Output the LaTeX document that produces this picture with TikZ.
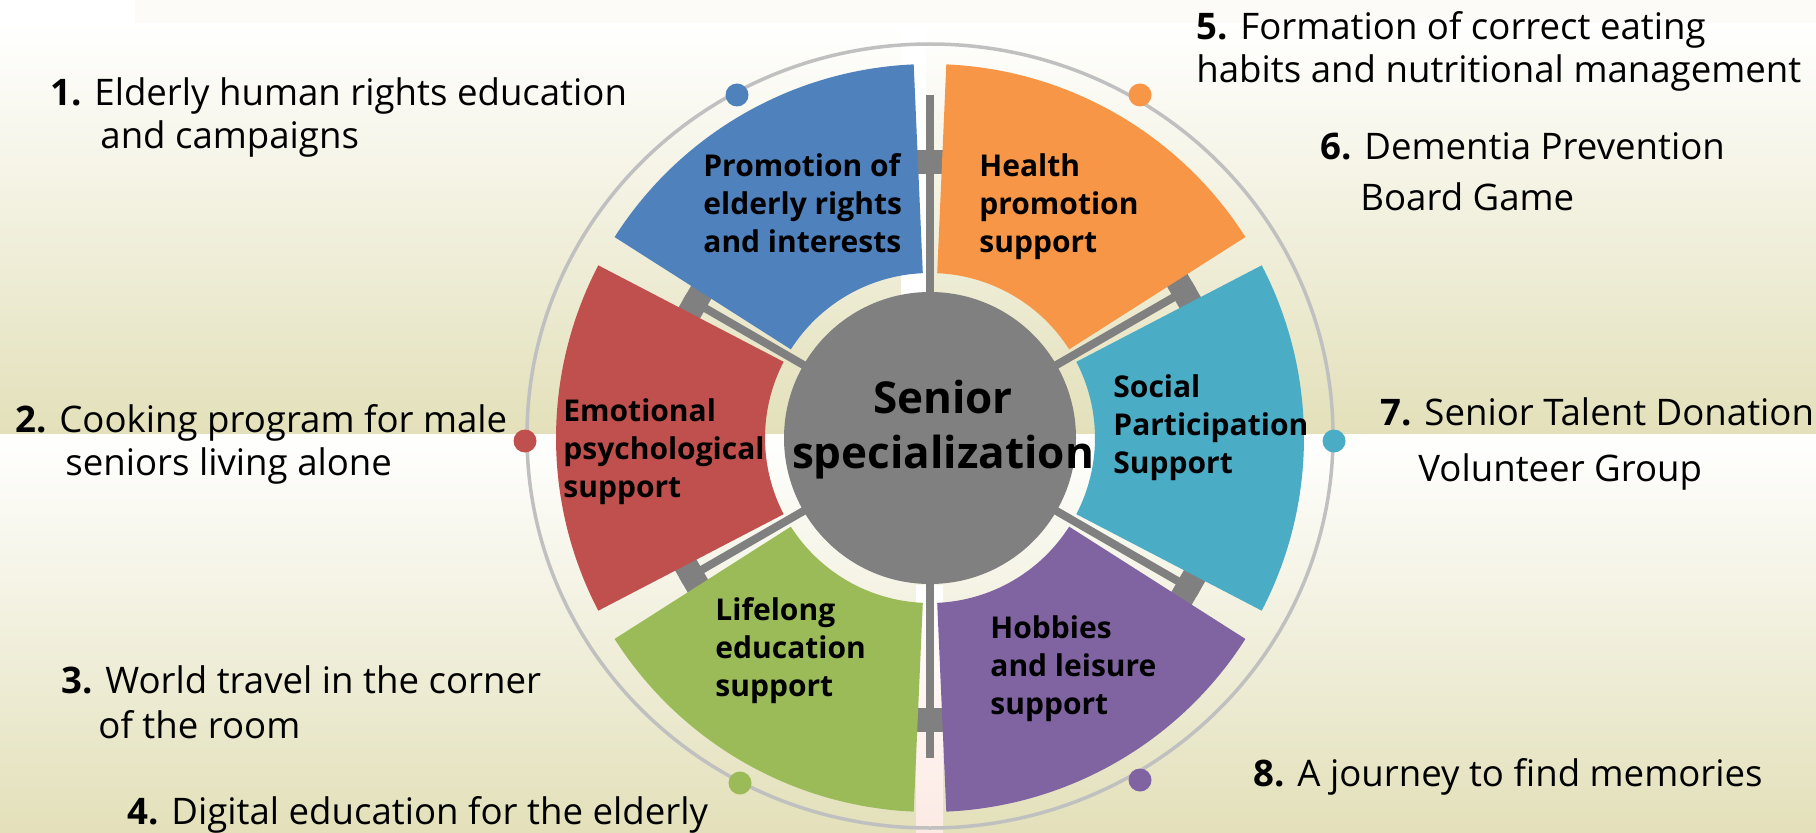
\documentclass[tikz,border=0pt]{standalone}
\usepackage{fontspec}
\setmainfont{Open Sans}
\usepackage{tikz}
\usetikzlibrary{calc}
\definecolor{bg}{RGB}{227,224,186}
\definecolor{topstrip}{RGB}{253,251,247}
\definecolor{pinkband}{RGB}{252,234,228}
\definecolor{secblue}{RGB}{79,129,189}
\definecolor{secorange}{RGB}{247,150,70}
\definecolor{seccyan}{RGB}{75,172,198}
\definecolor{secpurple}{RGB}{128,100,162}
\definecolor{secgreen}{RGB}{155,187,89}
\definecolor{secred}{RGB}{192,80,77}
\definecolor{hub}{RGB}{128,128,128}
\definecolor{rim}{RGB}{192,192,192}
\tikzset{tx/.style={font=\fontsize{18.3}{21.5}\selectfont, anchor=base west, inner sep=0pt, align=left}}
\tikzset{sl/.style={font=\fontsize{15}{19}\selectfont\bfseries, anchor=base west, inner sep=0pt, align=left}}
\tikzset{cn/.style={font=\fontsize{22}{27.5}\selectfont\bfseries, anchor=base, inner sep=0pt, align=center}}
\tikzset{rimdot/.style={circle, inner sep=0pt, minimum size=11.5pt}}
\tikzset{spoke/.style={hub, line width=4pt}}
\tikzset{bolt/.style={hub, line width=15pt}}
\newcommand{\wheelpart}[3]{%
  \fill[#1] ($(C)+(#2:165)$) -- ($(C)+(#2:374)$) arc[start angle=#2, end angle=#3, radius=374]
    -- ($(C)+(#3:165)$) arc[start angle=#3, end angle=#2, radius=165] -- cycle;}

\begin{document}
\begin{tikzpicture}[x=0.5pt, y=0.5pt]
  \useasboundingbox (0,0) rectangle (1816,832);
  \shade[top color=white, bottom color=bg] (0,398) rectangle (1816,809);
  \shade[top color=white, bottom color=bg] (0,0) rectangle (1816,398);
  \fill[white] (0,809) rectangle (1816,832);
  \fill[topstrip] (135,809) rectangle (1816,832);
  \fill[white] (901,537) rectangle (926,809);
  \shade[top color=white, bottom color=pinkband] (916,0) rectangle (943,247);

  \coordinate (C) at (930,394);
  \draw[rim, line width=1.75pt] (930,396) ellipse [x radius=403, y radius=392];
  \node[rimdot, fill=secblue] (D1) at (737,737) {};
  \node[rimdot, fill=secorange] (D5) at (1140,737) {};
  \node[rimdot, fill=secred] (D2) at (525,391) {};
  \node[rimdot, fill=seccyan] (D7) at (1334,391) {};
  \node[rimdot, fill=secgreen] (D4) at (740,49) {};
  \node[rimdot, fill=secpurple] (D8) at (1140,52) {};

  \draw[spoke] (C) -- ++(90:343);
  \draw[spoke] (C) -- ++(30:305);
  \draw[spoke] (C) -- ++(-30:310);
  \draw[spoke] (C) -- ++(-90:320);
  \draw[spoke] (C) -- ++(-150:287);
  \draw[spoke] (C) -- ++(150:283);
  \draw[bolt] ($(C)+(90:264)$) -- ($(C)+(90:288)$);
  \draw[bolt] ($(C)+(30:281)$) -- ($(C)+(30:305)$);
  \draw[bolt] ($(C)+(-30:286)$) -- ($(C)+(-30:310)$);
  \draw[bolt] ($(C)+(-90:270)$) -- ($(C)+(-90:294)$);
  \draw[bolt] ($(C)+(-150:263)$) -- ($(C)+(-150:287)$);
  \draw[bolt] ($(C)+(150:259)$) -- ($(C)+(150:283)$);

  \wheelpart{secblue}{92.5}{147.5}
  \wheelpart{secred}{152.5}{207.5}
  \wheelpart{secgreen}{212.5}{267.5}
  \wheelpart{secpurple}{272.5}{327.5}
  \wheelpart{seccyan}{-27.5}{27.5}
  \wheelpart{secorange}{32.5}{87.5}

  \node[circle, fill=hub, minimum size=146pt, inner sep=0pt] (Hub) at (C) {};
  \node[cn] (SS) at (943,364) {Senior\\specialization};

  \node[sl] (P) at (703,580) {Promotion of\\elderly rights\\and interests};
  \node[sl] (H) at (979,580) {Health\\promotion\\support};
  \node[sl] (S) at (1113,359) {Social\\Participation\\Support};
  \node[sl] (E) at (563,335) {Emotional\\psychological\\support};
  \node[sl] (L) at (715,136) {Lifelong\\education\\support};
  \node[sl] (Hb) at (990,118) {Hobbies\\and leisure\\support};

  \node[tx] (T1) at (50,683) {\textbf{1.} Elderly human rights education\\\hspace*{25pt}and campaigns};
  \node[tx] (T2) at (15,357) {\textbf{2.} Cooking program for male\\\hspace*{25pt}seniors living alone};
  \node[tx] (T3) at (61,94) {\textbf{3.} World travel in the corner\\[1pt]\hspace*{18.5pt}of the room};
  \node[tx] (T4) at (127,8) {\textbf{4.} Digital education for the elderly};
  \node[tx] (T5) at (1196,749) {\textbf{5.} Formation of correct eating\\habits and nutritional management};
  \node[tx] (T6) at (1320,621) {\textbf{6.} Dementia Prevention\\[4pt]\hspace*{20pt}Board Game};
  \node[tx] (T7) at (1380,351) {\textbf{7.} Senior Talent Donation\\[6.5pt]\hspace*{19pt}Volunteer Group};
  \node[tx] (T8) at (1253,46) {\textbf{8.} A journey to find memories};
\end{tikzpicture}
\end{document}
